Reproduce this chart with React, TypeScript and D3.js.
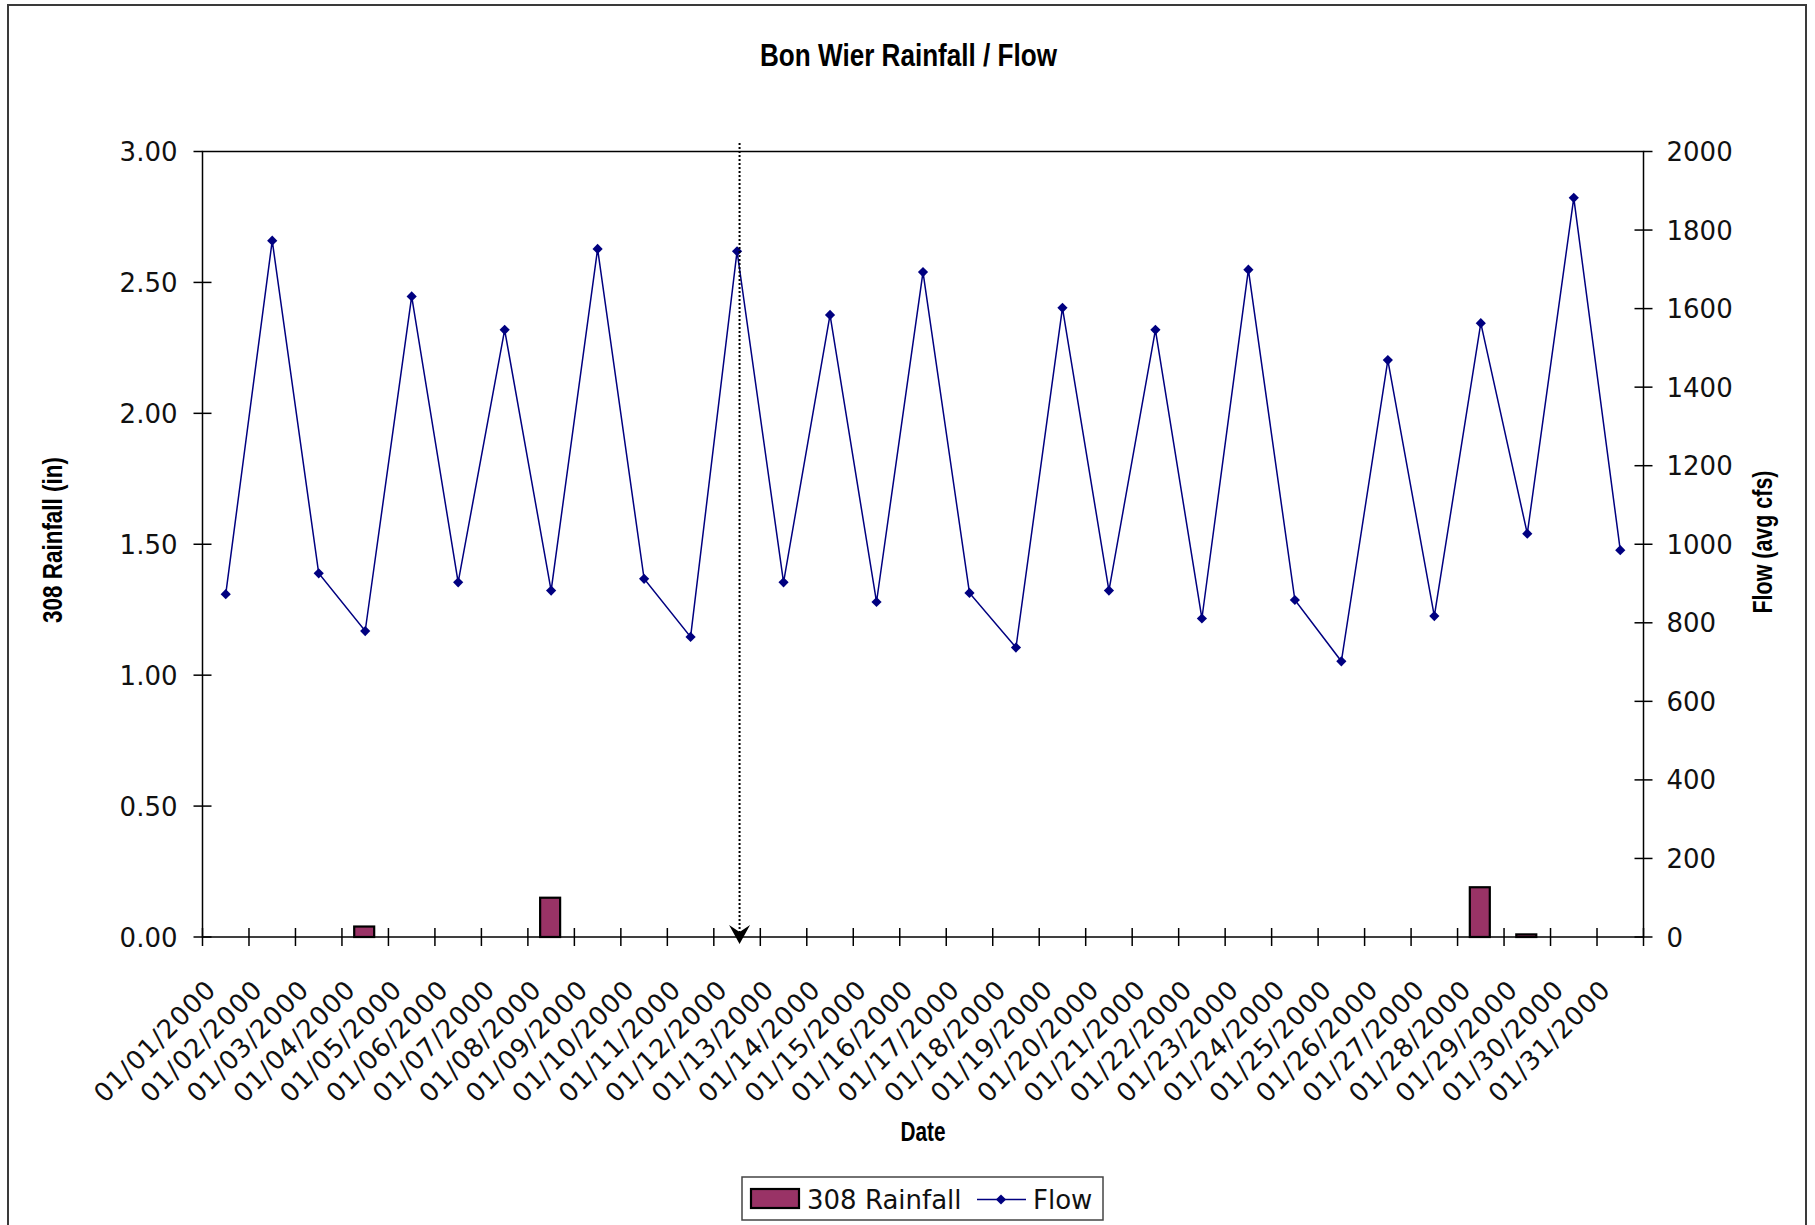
import { useEffect, useRef } from "react";
import * as d3 from "d3";

const dates = [
  "01/01/2000", "01/02/2000", "01/03/2000", "01/04/2000", "01/05/2000", "01/06/2000",
  "01/07/2000", "01/08/2000", "01/09/2000", "01/10/2000", "01/11/2000", "01/12/2000",
  "01/13/2000", "01/14/2000", "01/15/2000", "01/16/2000", "01/17/2000", "01/18/2000",
  "01/19/2000", "01/20/2000", "01/21/2000", "01/22/2000", "01/23/2000", "01/24/2000",
  "01/25/2000", "01/26/2000", "01/27/2000", "01/28/2000", "01/29/2000", "01/30/2000",
  "01/31/2000",
];

// 308 Rainfall (in)
const rainfall = [
  0, 0, 0, 0.04, 0, 0, 0, 0.15, 0, 0, 0, 0, 0, 0, 0, 0,
  0, 0, 0, 0, 0, 0, 0, 0, 0, 0, 0, 0.19, 0.01, 0, 0,
];

// Flow (avg cfs)
const flow = [
  873, 1773, 926, 779, 1631, 903, 1546, 882, 1752, 912, 764, 1746, 903, 1584, 853, 1693,
  876, 737, 1602, 882, 1546, 811, 1699, 858, 702, 1469, 817, 1563, 1027, 1882, 985,
];

const rainTicks = [0, 0.5, 1, 1.5, 2, 2.5, 3];
const flowTicks = [0, 200, 400, 600, 800, 1000, 1200, 1400, 1600, 1800, 2000];
const markedDate = "01/12/2000";

const W = 1815;
const H = 1225;
const LABEL_FONT = "'DejaVu Sans', Verdana, sans-serif";
const TITLE_FONT = "'Liberation Sans Narrow', 'Arial Narrow', 'Liberation Sans', Arial, sans-serif";

export default function App() {
  const svgRef = useRef<SVGSVGElement>(null);

  useEffect(() => {
    document.body.style.margin = "0";
    document.body.style.overflow = "hidden";
    if (!svgRef.current) return;
    const svg = d3.select(svgRef.current);
    svg.selectAll("*").remove();

    const plot = { left: 202.5, right: 1643.5, top: 151.5, bottom: 937 };

    const x = d3.scaleBand<string>().domain(dates).range([plot.left, plot.right]).padding(0);
    const yRain = d3.scaleLinear().domain([0, 3]).range([plot.bottom, plot.top]);
    const yFlow = d3.scaleLinear().domain([0, 2000]).range([plot.bottom, plot.top]);
    const bw = x.bandwidth();
    const cx = (d: string) => (x(d) ?? 0) + bw / 2;

    svg.append("rect").attr("width", W).attr("height", H).attr("fill", "#fff");

    // chart border (bottom edge falls just off the page)
    svg
      .append("rect")
      .attr("x", 8)
      .attr("y", 5)
      .attr("width", 1798)
      .attr("height", 1224)
      .attr("fill", "none")
      .attr("stroke", "#3a3a3a")
      .attr("stroke-width", 2);

    // plot area border
    svg
      .append("rect")
      .attr("x", plot.left)
      .attr("y", plot.top)
      .attr("width", plot.right - plot.left)
      .attr("height", plot.bottom - plot.top)
      .attr("fill", "none")
      .attr("stroke", "#000")
      .attr("stroke-width", 1.5);

    // title
    svg
      .append("text")
      .attr("x", 908.5)
      .attr("y", 66)
      .attr("text-anchor", "middle")
      .attr("font-family", TITLE_FONT)
      .attr("font-weight", "bold")
      .attr("font-size", 32)
      .attr("textLength", 297)
      .attr("lengthAdjust", "spacingAndGlyphs")
      .text("Bon Wier Rainfall / Flow");

    // left axis
    const gl = svg.append("g");
    gl.selectAll("line")
      .data(rainTicks)
      .join("line")
      .attr("x1", plot.left - 9)
      .attr("x2", (d) => (d === 3 ? plot.left : plot.left + 9))
      .attr("y1", (d) => yRain(d))
      .attr("y2", (d) => yRain(d))
      .attr("stroke", "#000")
      .attr("stroke-width", 1.5);
    gl.selectAll("text")
      .data(rainTicks)
      .join("text")
      .attr("x", plot.left - 25)
      .attr("y", (d) => yRain(d) + 9.5)
      .attr("text-anchor", "end")
      .attr("font-family", LABEL_FONT)
      .attr("font-size", 26)
      .attr("fill", "#111")
      .text((d) => d3.format(".2f")(d));

    // right axis
    const gr = svg.append("g");
    gr.selectAll("line")
      .data(flowTicks)
      .join("line")
      .attr("x1", (d) => (d === 2000 ? plot.right : plot.right - 9))
      .attr("x2", plot.right + 9)
      .attr("y1", (d) => yFlow(d))
      .attr("y2", (d) => yFlow(d))
      .attr("stroke", "#000")
      .attr("stroke-width", 1.5);
    gr.selectAll("text")
      .data(flowTicks)
      .join("text")
      .attr("x", plot.right + 23)
      .attr("y", (d) => yFlow(d) + 9.5)
      .attr("text-anchor", "start")
      .attr("font-family", LABEL_FONT)
      .attr("font-size", 26)
      .attr("fill", "#111")
      .text((d) => String(d));

    // x axis ticks between categories
    const bounds = [...dates.map((d) => x(d) ?? 0), plot.right];
    svg
      .append("g")
      .selectAll("line")
      .data(bounds)
      .join("line")
      .attr("x1", (d) => d)
      .attr("x2", (d) => d)
      .attr("y1", plot.bottom - 9)
      .attr("y2", plot.bottom + 9)
      .attr("stroke", "#000")
      .attr("stroke-width", 1.5);

    svg
      .append("g")
      .selectAll("text")
      .data(dates)
      .join("text")
      .attr("transform", (d) => `translate(${cx(d) - 8},${plot.bottom + 54}) rotate(-45)`)
      .attr("text-anchor", "end")
      .attr("font-family", LABEL_FONT)
      .attr("font-size", 26)
      .attr("letter-spacing", 1)
      .attr("fill", "#111")
      .text((d) => d);

    // bars
    const barW = bw * 0.43;
    svg
      .append("g")
      .selectAll("rect")
      .data(dates.map((d, i) => ({ d, v: rainfall[i] })).filter((r) => r.v > 0))
      .join("rect")
      .attr("x", (r) => cx(r.d) - barW / 2 - 1)
      .attr("y", (r) => yRain(r.v))
      .attr("width", barW)
      .attr("height", (r) => plot.bottom - yRain(r.v))
      .attr("fill", "#993366")
      .attr("stroke", "#000")
      .attr("stroke-width", 2.2);

    // flow line
    const line = d3
      .line<number>()
      .x((_, i) => cx(dates[i]))
      .y((v) => yFlow(v));
    svg
      .append("path")
      .datum(flow)
      .attr("d", line)
      .attr("fill", "none")
      .attr("stroke", "#000080")
      .attr("stroke-width", 1.5);

    const diamond = d3.symbol().type(d3.symbolSquare).size(52);
    svg
      .append("g")
      .selectAll("path")
      .data(flow)
      .join("path")
      .attr("transform", (v, i) => `translate(${cx(dates[i])},${yFlow(v)}) rotate(45)`)
      .attr("d", diamond)
      .attr("fill", "#000080");

    // dotted marker with arrow
    const mx = cx(markedDate) + 2.5;
    svg
      .append("line")
      .attr("x1", mx)
      .attr("x2", mx)
      .attr("y1", 143)
      .attr("y2", 932)
      .attr("stroke", "#000")
      .attr("stroke-width", 2)
      .attr("stroke-dasharray", "2,2");
    svg
      .append("path")
      .attr("d", `M${mx},944 L${mx - 10.5},925 L${mx},932 L${mx + 10.5},925 Z`)
      .attr("fill", "#000");

    // axis titles
    svg
      .append("text")
      .attr("transform", `translate(62,540) rotate(-90)`)
      .attr("text-anchor", "middle")
      .attr("font-family", TITLE_FONT)
      .attr("font-weight", "bold")
      .attr("font-size", 27)
      .attr("textLength", 166)
      .attr("lengthAdjust", "spacingAndGlyphs")
      .text("308 Rainfall (in)");
    svg
      .append("text")
      .attr("transform", `translate(1772,542) rotate(-90)`)
      .attr("text-anchor", "middle")
      .attr("font-family", TITLE_FONT)
      .attr("font-weight", "bold")
      .attr("font-size", 27)
      .attr("textLength", 143)
      .attr("lengthAdjust", "spacingAndGlyphs")
      .text("Flow (avg cfs)");
    svg
      .append("text")
      .attr("x", 923)
      .attr("y", 1141)
      .attr("text-anchor", "middle")
      .attr("font-family", TITLE_FONT)
      .attr("font-weight", "bold")
      .attr("font-size", 27)
      .attr("textLength", 45)
      .attr("lengthAdjust", "spacingAndGlyphs")
      .text("Date");

    // legend
    const lg = svg.append("g");
    lg.append("rect")
      .attr("x", 742)
      .attr("y", 1177)
      .attr("width", 361)
      .attr("height", 43)
      .attr("fill", "#fff")
      .attr("stroke", "#444")
      .attr("stroke-width", 1.5);
    lg.append("rect")
      .attr("x", 751)
      .attr("y", 1189)
      .attr("width", 48)
      .attr("height", 19)
      .attr("fill", "#993366")
      .attr("stroke", "#000")
      .attr("stroke-width", 2.2);
    lg.append("text")
      .attr("x", 807)
      .attr("y", 1209)
      .attr("font-family", LABEL_FONT)
      .attr("font-size", 26)
      .attr("fill", "#111")
      .text("308 Rainfall");
    lg.append("line")
      .attr("x1", 977)
      .attr("x2", 1026)
      .attr("y1", 1199.5)
      .attr("y2", 1199.5)
      .attr("stroke", "#000080")
      .attr("stroke-width", 1.5);
    lg.append("path")
      .attr("transform", "translate(1001,1199.5) rotate(45)")
      .attr("d", diamond)
      .attr("fill", "#000080");
    lg.append("text")
      .attr("x", 1033)
      .attr("y", 1209)
      .attr("font-family", LABEL_FONT)
      .attr("font-size", 26)
      .attr("fill", "#111")
      .text("Flow");
  }, []);

  return (
    <svg
      ref={svgRef}
      width={W}
      height={H}
      viewBox={`0 0 ${W} ${H}`}
      style={{ position: "absolute", left: 0, top: 0, display: "block" }}
    />
  );
}
